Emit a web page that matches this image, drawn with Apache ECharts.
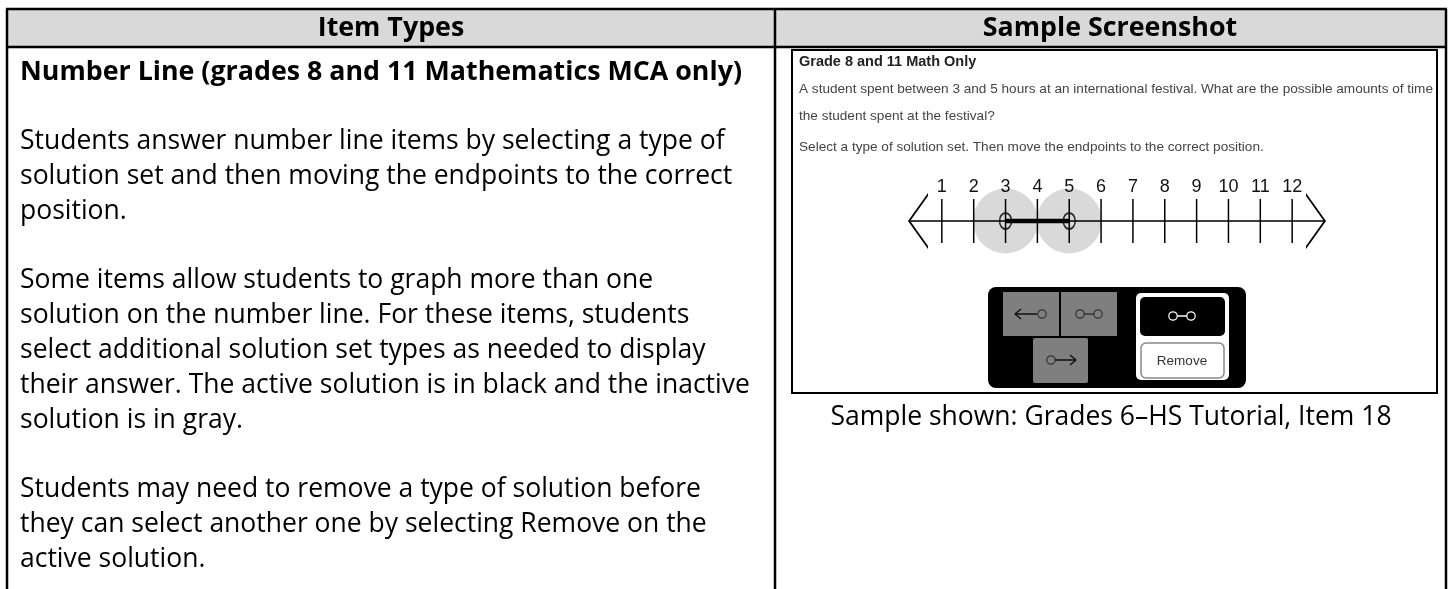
<!DOCTYPE html>
<html>
<head>
<meta charset="utf-8">
<title>Number Line item type</title>
<script src="https://cdn.jsdelivr.net/npm/echarts@6/dist/echarts.min.js"></script>
<style>
html, body { margin: 0; padding: 0; background: #fff; }
#chart { width: 1448px; height: 589px; }
</style>
</head>
<body>
<div id="chart"></div>
<script>
// number line of the sample screenshot
var tickValues = [1, 2, 3, 4, 5, 6, 7, 8, 9, 10, 11, 12];
var solutionSet = [3, 5];
var lineMin = 0, lineMax = 13;

// table text
var headers = ['Item Types', 'Sample Screenshot'];
var itemTitle = 'Number Line (grades 8 and 11 Mathematics MCA only)';
var itemLines = [
  'Students answer number line items by selecting a type of',
  'solution set and then moving the endpoints to the correct',
  'position.',
  '',
  'Some items allow students to graph more than one',
  'solution on the number line. For these items, students',
  'select additional solution set types as needed to display',
  'their answer. The active solution is in black and the inactive',
  'solution is in gray.',
  '',
  'Students may need to remove a type of solution before',
  'they can select another one by selecting Remove on the',
  'active solution.'
];
var caption = 'Sample shown: Grades 6\u2013HS Tutorial, Item 18';
var shotTitle = 'Grade 8 and 11 Math Only';
var shotLines = [
  'A student spent between 3 and 5 hours at an international festival. What are the possible amounts of time',
  'the student spent at the festival?',
  'Select a type of solution set. Then move the endpoints to the correct position.'
];

var BODY = '26.5px "Open Sans"';
var BOLD = 'bold 26.8px "Open Sans"';
var SHOT = '13.6px "Liberation Sans", Arial';
var lineH = 34.8;

var g = [];
function txt(x, y, s, font, fill, align) {
  g.push({ type: 'text', x: x, y: y, z: 10,
    style: { text: s, font: font, fill: fill || '#000', align: align || 'left', verticalAlign: 'middle' } });
}
function ln(x1, y1, x2, y2, w, c) {
  g.push({ type: 'line', z: 10, shape: { x1: x1, y1: y1, x2: x2, y2: y2 },
    style: { stroke: c || '#000', lineWidth: w || 2.5 } });
}

// table frame
g.push({ type: 'rect', z: 1, shape: { x: 7, y: 9, width: 1439, height: 38 }, style: { fill: '#d9d9d9' } });
ln(6, 9, 1447, 9);
ln(6, 47, 1447, 47);
ln(7, 9, 7, 589);
ln(1446, 9, 1446, 589);
ln(775, 9, 775, 589);
txt(391, 28, headers[0], BOLD, '#000', 'center');
txt(1110, 28, headers[1], BOLD, '#000', 'center');

// left column
txt(20, 72, itemTitle, BOLD);
itemLines.forEach(function (s, i) {
  if (s) txt(20, 72 + (i + 2) * lineH, s, BODY, '#000');
});

// screenshot frame and text
g.push({ type: 'rect', z: 1, shape: { x: 792, y: 50, width: 645, height: 343 },
  style: { fill: '#fff', stroke: '#000', lineWidth: 2 } });
txt(799, 62, shotTitle, 'bold 14.5px "Liberation Sans", Arial', '#222');
txt(799, 89, shotLines[0], SHOT, '#444');
txt(799, 116, shotLines[1], SHOT, '#444');
txt(799, 147, shotLines[2], SHOT, '#444');
txt(1111, 417, caption, BODY, '#000', 'center');

// solution set buttons
function rect(x, y, w, h, r, fill, stroke) {
  g.push({ type: 'rect', z: 5, shape: { x: x, y: y, width: w, height: h, r: r },
    style: { fill: fill, stroke: stroke || null, lineWidth: 1.5 } });
}
function ring(cx, cy, c) {
  g.push({ type: 'circle', z: 7, shape: { cx: cx, cy: cy, r: 4.2 },
    style: { fill: 'none', stroke: c, lineWidth: 1.2 } });
}
function seg(x1, y1, x2, y2, c) {
  g.push({ type: 'line', z: 7, shape: { x1: x1, y1: y1, x2: x2, y2: y2 },
    style: { stroke: c, lineWidth: 1.5 } });
}
rect(988, 287, 258, 101, 8, '#000');
rect(1003, 292, 56, 44, 0, '#7f7f7f');
rect(1061, 292, 56, 44, 0, '#7f7f7f');
rect(1033, 338, 55, 45, 2, '#7f7f7f');
rect(1136, 293, 93, 87, 5, '#fff');
rect(1140, 297, 85, 39, 5, '#000');
rect(1141, 343, 83, 35, 5, '#fff', '#8a8a8a');
// left ray
seg(1015, 314, 1037, 314, '#111'); seg(1015, 314, 1021, 309, '#111'); seg(1015, 314, 1021, 319, '#111');
ring(1042, 314, '#333');
// segment
ring(1080, 314, '#333'); seg(1084, 314, 1094, 314, '#333'); ring(1098, 314, '#333');
// right ray
ring(1051, 360, '#333'); seg(1055, 360, 1076, 360, '#111'); seg(1076, 360, 1070, 355, '#111'); seg(1076, 360, 1070, 365, '#111');
// active
ring(1173, 316, '#fff'); seg(1177, 316, 1187, 316, '#fff'); ring(1191, 316, '#fff');
txt(1182, 361, 'Remove', '13.5px "Liberation Sans", Arial', '#333', 'center');

// open chevron, drawn at its real aspect so it is not squeezed
var chevron = 'path://M0,20 L28,0 L56,20 L53,20 L28,2.2 L3,20 Z';

var chart = echarts.init(document.getElementById('chart'));
chart.setOption({
  animation: false,
  grid: { left: 910, width: 414, top: 199, height: 44 },
  xAxis: {
    type: 'value', min: lineMin, max: lineMax, interval: 1, z: 3,
    axisLine: { onZero: true, lineStyle: { color: '#000', width: 1.5 },
      symbol: [chevron, chevron], symbolSize: [56, 20], symbolOffset: [8, -8] },
    axisTick: { show: false }, axisLabel: { show: false }, splitLine: { show: false }
  },
  yAxis: { type: 'value', min: -1, max: 1, show: false },
  series: [
    {
      type: 'scatter', z: 1, symbolSize: 65, silent: true,
      itemStyle: { color: '#cfcfcf' },
      data: solutionSet.map(function (v) { return [v, 0]; })
    },
    {
      type: 'custom', z: 4, silent: true,
      data: tickValues.map(function (v) { return [v]; }),
      renderItem: function (params, api) {
        var v = api.value(0);
        var top = api.coord([v, 1]);
        var bot = api.coord([v, -1]);
        return { type: 'group', children: [
          { type: 'line', shape: { x1: top[0], y1: top[1], x2: bot[0], y2: bot[1] },
            style: { stroke: '#000', lineWidth: 1.5 } },
          { type: 'text', x: top[0], y: top[1] - 12,
            style: { text: String(v), font: '18px "Liberation Sans", Arial', fill: '#111', align: 'center', verticalAlign: 'middle' } }
        ] };
      }
    },
    {
      type: 'line', z: 5, silent: true, showSymbol: false, clip: false,
      lineStyle: { color: '#000', width: 4.5 },
      data: solutionSet.map(function (v) { return [v, 0]; })
    },
    {
      type: 'scatter', z: 6, silent: true, symbol: 'circle', symbolSize: [12, 16],
      itemStyle: { color: 'rgba(0,0,0,0)', borderColor: '#000', borderWidth: 1.8 },
      data: solutionSet.map(function (v) { return [v, 0]; })
    }
  ],
  graphic: g
});
</script>
</body>
</html>
